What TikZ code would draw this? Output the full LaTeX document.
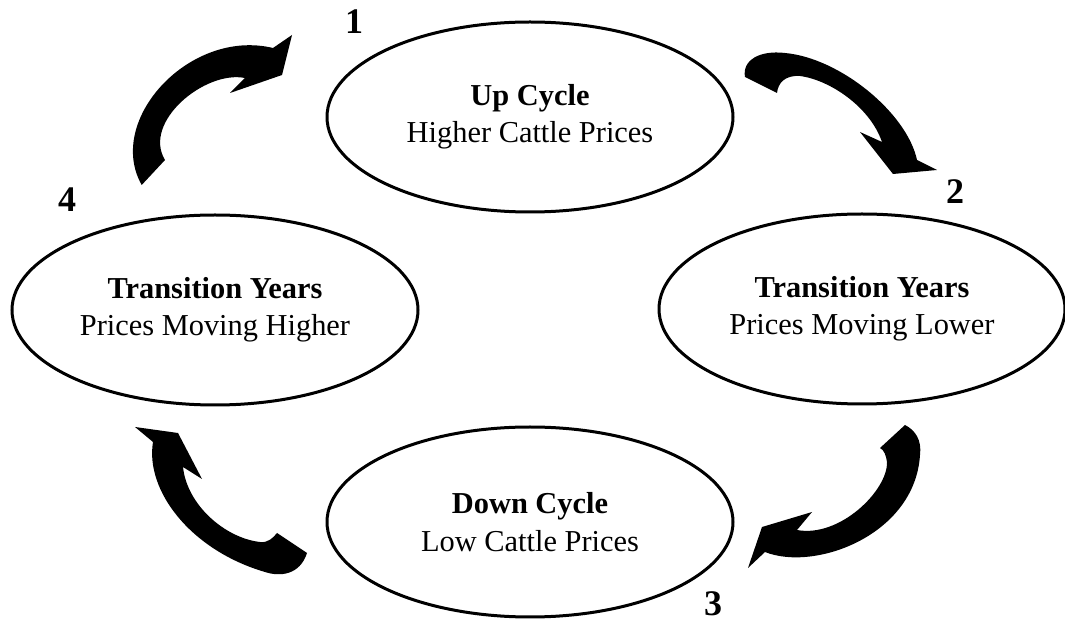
\documentclass[tikz,border=0pt]{standalone}
\usepackage{fontspec}
\setmainfont{Liberation Serif}
\usepackage{tikz}
\usetikzlibrary{shapes.geometric}

\begin{document}
\begin{tikzpicture}[x=0.75pt, y=-0.75pt,
  cyclebox/.style={ellipse, draw, line width=2.25pt, inner sep=0pt,
    minimum width=304.5pt, minimum height=142.5pt, align=center,
    font=\fontsize{22.8}{28}\selectfont},
  stagenum/.style={font=\bfseries\fontsize{27}{30}\selectfont, inner sep=0pt},
  blockarrow/.style={fill=black}]

\useasboundingbox (0,0) rectangle (1065,623);

% First, define the four stages of the cycle
\draw (530,117) node[cyclebox] (up) {\textbf{Up Cycle}\\Higher Cattle Prices};
\draw (862,309) node[cyclebox] (lower) {\textbf{Transition Years}\\Prices Moving Lower};
\draw (530,522) node[cyclebox] (down) {\textbf{Down Cycle}\\Low Cattle Prices};
\draw (215,310) node[cyclebox] (higher) {\textbf{Transition Years}\\Prices Moving Higher};

% Stage numbers
\draw (354,22) node[stagenum] (n1) {1};
\draw (955,192) node[stagenum] (n2) {2};
\draw (713,604) node[stagenum] (n3) {3};
\draw (67,200) node[stagenum] (n4) {4};

% Now the curved block arrows: outer edge, head, then inner edge back to the tail
% from 4 to 1
\fill[blockarrow] (141.7,185) .. controls (105,120) and (190,28) .. (273,48)
  -- (292,35) -- (282,75) -- (230,93) -- (245,78)
  .. controls (205,70) and (142,122) .. (165,160) -- cycle;

% from 1 to 2
\fill[blockarrow] (745,77) .. controls (742,60) and (760,50) .. (785,53)
  .. controls (840,58) and (907,113) .. (917,160)
  -- (937,170) -- (893,174) -- (860,132) -- (882,142)
  .. controls (870,107) and (830,80) .. (800,76)
  .. controls (785,75) and (778,83) .. (777,93) -- cycle;

% from 2 to 3
\fill[blockarrow] (905,425) .. controls (915,430) and (922,440) .. (920,455)
  .. controls (915,535) and (815,572) .. (765,552)
  -- (748,568) -- (762,527) -- (812,512) -- (797,530)
  .. controls (840,538) and (888,490) .. (887,462)
  .. controls (886,455) and (884,450) .. (880,448) -- cycle;

% from 3 to 4
\fill[blockarrow] (307,553) .. controls (300,575) and (280,577) .. (265,572)
  .. controls (190,550) and (145,490) .. (153,442)
  -- (135,427) -- (178,433) -- (202,479) -- (183,467)
  .. controls (187,505) and (225,538) .. (260,542)
  .. controls (268,543) and (273,538) .. (277,533) -- cycle;

\end{tikzpicture}
\end{document}
